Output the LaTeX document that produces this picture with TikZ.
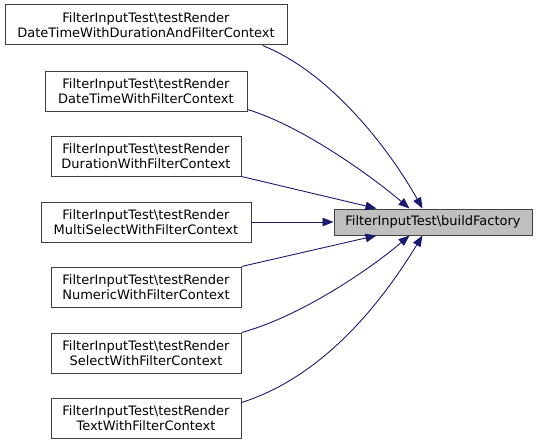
\documentclass[tikz,border=0pt]{standalone}
\usepackage{fontspec}
\setmainfont{DejaVu Sans}
\usetikzlibrary{arrows.meta}

\begin{document}
\begin{tikzpicture}[
  x=1pt,y=-1pt,
  caller/.style={draw=black!75, line width=1pt, fill=white, align=center, minimum height=40pt, font=\fontsize{13}{14.5}\selectfont, inner sep=2pt},
  target/.style={draw=black!75, line width=1pt, fill=black!25, align=center, minimum width=198pt, minimum height=26pt, font=\fontsize{13}{14.5}\selectfont, inner sep=2pt},
  arr/.style={-{Triangle[length=11pt,width=8.5pt]}, draw={rgb,255:red,25;green,25;blue,112}, line width=0.9pt}
]
\useasboundingbox (0,0) rectangle (537,444);
\node[target] (build) at (433,222) {FilterInputTest\textbackslash buildFactory};
\node[caller, minimum width=282pt] (durfilter) at (146,25) {FilterInputTest\textbackslash testRender\\DateTimeWithDurationAndFilterContext};
\node[caller, minimum width=202pt] (dtfilter) at (146,91) {FilterInputTest\textbackslash testRender\\DateTimeWithFilterContext};
\node[caller, minimum width=190pt] (durationfilter) at (146,156) {FilterInputTest\textbackslash testRender\\DurationWithFilterContext};
\node[caller, minimum width=210pt] (multifilter) at (146,222) {FilterInputTest\textbackslash testRender\\MultiSelectWithFilterContext};
\node[caller, minimum width=190pt] (numfilter) at (146,287) {FilterInputTest\textbackslash testRender\\NumericWithFilterContext};
\node[caller, minimum width=190pt] (selfilter) at (146,353) {FilterInputTest\textbackslash testRender\\SelectWithFilterContext};
\node[caller, minimum width=190pt] (textfilter) at (146,418) {FilterInputTest\textbackslash testRender\\TextWithFilterContext};
\draw[arr] ([xshift=-25pt]durfilter.south east) .. controls +(68,27) and +(-33,-59) .. ([xshift=89pt]build.north west);
\draw[arr] ([yshift=2pt]dtfilter.south east) .. controls +(53,16) and +(-40,-34) .. ([xshift=76pt]build.north west);
\draw[arr] (durationfilter.south east) -- ([xshift=43pt]build.north west);
\draw[arr] (multifilter) -- (build);
\draw[arr] (numfilter.north east) -- ([xshift=43pt]build.south west);
\draw[arr] (selfilter.north east) .. controls +(59,-16) and +(-40,34) .. ([xshift=76pt]build.south west);
\draw[arr] ([yshift=-5pt]textfilter.north east) .. controls +(89,-28) and +(-33,54) .. ([xshift=89pt]build.south west);
\end{tikzpicture}
\end{document}
